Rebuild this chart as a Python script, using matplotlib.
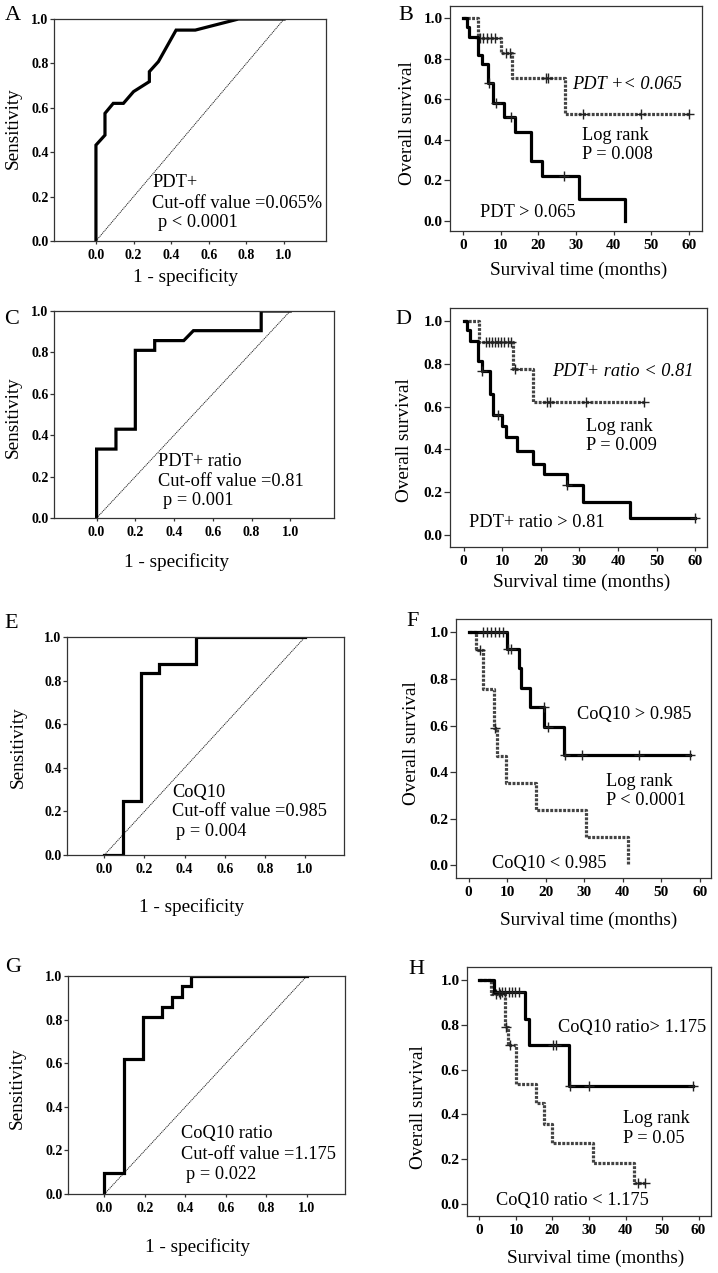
import numpy as np
import matplotlib
matplotlib.use("Agg")
import matplotlib.pyplot as plt

plt.rcParams['font.family'] = ['Liberation Serif', 'DejaVu Serif']

# ---------------- ROC data ----------------
A_fpr = [0, 0, 0.048, 0.048, 0.092, 0.146, 0.20, 0.284, 0.284, 0.332, 0.426, 0.528, 0.758, 1.0]
A_tpr = [0, 0.432, 0.477, 0.575, 0.62, 0.62, 0.673, 0.718, 0.763, 0.808, 0.95, 0.95, 1.0, 1.0]

C_fpr = [0, 0, 0.1, 0.1, 0.2, 0.2, 0.3, 0.3, 0.45, 0.5, 0.85, 0.85, 1.0]
C_tpr = [0, 0.333, 0.333, 0.429, 0.429, 0.81, 0.81, 0.857, 0.857, 0.905, 0.905, 1.0, 1.0]

E_fpr = [0, 0.091, 0.091, 0.182, 0.182, 0.273, 0.273, 0.455, 0.455, 1.0]
E_tpr = [0, 0, 0.25, 0.25, 0.833, 0.833, 0.875, 0.875, 1.0, 1.0]

G_fpr = [0, 0, 0.095, 0.095, 0.19, 0.19, 0.286, 0.286, 0.333, 0.333, 0.381, 0.381, 0.429, 0.429, 1.0]
G_tpr = [0, 0.095, 0.095, 0.619, 0.619, 0.81, 0.81, 0.857, 0.857, 0.905, 0.905, 0.952, 0.952, 1.0, 1.0]

roc_ticks = [0.0, 0.2, 0.4, 0.6, 0.8, 1.0]
roc_ticklabels = ["0.0", "0.2", "0.4", "0.6", "0.8", "1.0"]

# ---------------- Kaplan-Meier data ----------------
# B: PDT
B_hi_t = [1.1, 1.7, 3.9, 5.0, 6.7, 7.9, 10.8, 13.9, 18.0, 21.0, 30.9, 43.1]
B_hi_s = [0.955, 0.909, 0.818, 0.773, 0.682, 0.58, 0.511, 0.44, 0.293, 0.219, 0.109, 0.0]
B_hi_c = [6.9, 8.8, 12.7, 26.9]
B_hi_end = 43.1
B_lo_t = [3.9, 10.1, 13.0, 27.1]
B_lo_s = [0.901, 0.83, 0.704, 0.528]
B_lo_c = [4.4, 5.4, 6.5, 7.5, 8.6, 11.4, 12.5, 22.0, 22.7, 32.0, 47.3, 60.0]
B_lo_end = 60.0

# D: PDT+ ratio
D_hi_t = [1.0, 1.7, 3.8, 4.7, 6.8, 7.7, 9.9, 10.9, 13.9, 18.0, 20.8, 26.8, 30.9, 43.0]
D_hi_s = [0.956, 0.907, 0.812, 0.767, 0.661, 0.563, 0.51, 0.456, 0.393, 0.334, 0.285, 0.233, 0.156, 0.078]
D_hi_c = [4.9, 8.8, 26.9, 60.0]
D_hi_end = 60.0
D_lo_t = [4.0, 12.9, 17.9]
D_lo_s = [0.90, 0.775, 0.622]
D_lo_c = [5.8, 6.6, 7.4, 8.2, 9.0, 9.8, 10.6, 11.4, 12.2, 13.2, 21.7, 22.5, 31.8, 46.8]
D_lo_end = 46.8

# F: CoQ10
F_hi_t = [10.0, 13.0, 13.7, 16.0, 19.7, 24.8]
F_hi_s = [0.928, 0.847, 0.761, 0.678, 0.594, 0.475]
F_hi_c = [3.8, 4.9, 5.9, 6.9, 7.9, 8.9, 10.3, 11.1, 19.5, 20.6, 24.9, 29.5, 44.3, 57.4]
F_hi_end = 57.4
F_lo_t = [1.9, 3.8, 6.6, 7.5, 9.6, 17.6, 30.6, 41.3]
F_lo_s = [0.926, 0.757, 0.589, 0.47, 0.353, 0.239, 0.12, 0.0]
F_lo_c = [2.9, 6.8]
F_lo_end = 41.3

# H: CoQ10 ratio
H_hi_t = [4.1, 12.6, 13.7, 24.6]
H_hi_s = [0.946, 0.826, 0.711, 0.528]
H_hi_c = [5.3, 6.2, 7.1, 8.0, 8.9, 9.8, 10.7, 20.2, 20.9, 24.8, 30.0, 58.4]
H_hi_end = 58.4
H_lo_t = [3.3, 7.1, 7.9, 9.9, 15.6, 17.7, 19.8, 31.1, 42.2]
H_lo_s = [0.938, 0.79, 0.711, 0.536, 0.449, 0.355, 0.269, 0.18, 0.09]
H_lo_c = [4.5, 5.7, 7.3, 8.5, 43.3, 45.4]
H_lo_end = 45.4

km_xticks = [0, 10, 20, 30, 40, 50, 60]
km_xticklabels = ["0", "10", "20", "30", "40", "50", "60"]
km_yticks = [0.0, 0.2, 0.4, 0.6, 0.8, 1.0]
km_yticklabels = ["0.0", "0.2", "0.4", "0.6", "0.8", "1.0"]

# ---------------- figure ----------------
W, H = 718, 1273
fig = plt.figure(figsize=(W / 100, H / 100), dpi=100)
fig.patch.set_facecolor('white')

SPINE = '#333333'


def add_ax(l, r, t, b):
    return fig.add_axes([l / W, 1 - b / H, (r - l) / W, (b - t) / H])


def fig_text(x, y, s, **kw):
    fig.text(x / W, 1 - y / H, s, **kw)


def style_box(ax):
    for sp in ax.spines.values():
        sp.set_color(SPINE)
        sp.set_linewidth(0.9)


def roc_panel(box, xlim, fpr, tpr, lines, ylab_pos, xlab_pos):
    ax = add_ax(*box)
    style_box(ax)
    ax.plot([0, 1], [0, 1], color='#222222', lw=0.7, ls=(0, (1.2, 0.8)))
    ax.plot(fpr, tpr, color='black', lw=2.3, solid_joinstyle='miter')
    ax.set_xlim(*xlim)
    ax.set_ylim(0, 1)
    ax.set_xticks(roc_ticks)
    ax.set_xticklabels(roc_ticklabels, fontweight='bold', fontsize=10)
    ax.set_yticks(roc_ticks)
    ax.set_yticklabels(roc_ticklabels, fontweight='bold', fontsize=10)
    ax.tick_params(axis='x', length=2, width=0.9, pad=4, color=SPINE)
    ax.tick_params(axis='y', length=3, width=0.9, pad=1, color=SPINE)
    for (x, y, s) in lines:
        ax.text(x, y, s, fontsize=13.2, ha='left', va='center')
    fig_text(*ylab_pos, "Sensitivity", fontsize=13.8, rotation=90, ha='center', va='center')
    fig_text(*xlab_pos, "1 - specificity", fontsize=13.8, ha='center', va='center')
    return ax


def step_xy(t, s, end):
    x = [0.0] + list(t) + [end]
    y = [1.0] + list(s) + [s[-1]]
    return x, y


def surv_at(t, s, c):
    t = np.asarray(t)
    s = np.asarray(s)
    out = []
    for ct in c:
        idx = np.searchsorted(t, ct, side='right') - 1
        out.append(1.0 if idx < 0 else s[idx])
    return out


def km_curve(ax, t, s, c, end, dotted):
    x, y = step_xy(t, s, end)
    if dotted:
        ax.step(x, y, where='post', color='#444444', lw=2.3, ls=(0, (0.9, 0.45)))
    else:
        ax.step(x, y, where='post', color='black', lw=2.3)
    ax.plot(c, surv_at(t, s, c), ls='none', marker='+', ms=7, mew=1.0, color='#222222')


def km_panel(box, xlim, ylim, curves, texts, ylab_pos, xlab_pos):
    ax = add_ax(*box)
    style_box(ax)
    for (t, s, c, end, dotted) in curves:
        km_curve(ax, t, s, c, end, dotted)
    ax.set_xlim(*xlim)
    ax.set_ylim(*ylim)
    ax.set_xticks(km_xticks)
    ax.set_xticklabels(km_xticklabels, fontweight='bold', fontsize=11)
    ax.set_yticks(km_yticks)
    ax.set_yticklabels(km_yticklabels, fontweight='bold', fontsize=11)
    ax.tick_params(axis='x', length=3, width=0.9, pad=3, color=SPINE)
    ax.tick_params(axis='y', length=4, width=0.9, pad=1.5, color=SPINE)
    for (x, y, s, it) in texts:
        ax.text(x, y, s, fontsize=13.2, ha='left', va='center',
                style='italic' if it else 'normal')
    fig_text(*ylab_pos, "Overall survival", fontsize=13.8, rotation=90, ha='center', va='center')
    fig_text(*xlab_pos, "Survival time (months)", fontsize=13.8, ha='center', va='center')
    return ax


# Panel A
roc_panel((54, 326, 19, 241), (-0.223, 1.223), A_fpr, A_tpr,
          [(0.30, 0.263, "PDT+"), (0.30, 0.17, "Cut-off value =0.065%"), (0.33, 0.084, "p < 0.0001")],
          (13, 128), (186, 277))
# Panel C
roc_panel((54, 334, 311, 518), (-0.22, 1.226), C_fpr, C_tpr,
          [(0.317, 0.273, "PDT+ ratio"), (0.317, 0.177, "Cut-off value =0.81"), (0.343, 0.084, "p = 0.001")],
          (13, 417), (177, 562))
# Panel E
roc_panel((67, 344, 637, 855), (-0.186, 1.194), E_fpr, E_tpr,
          [(0.337, 0.286, "CoQ10"), (0.337, 0.199, "Cut-off value =0.985"), (0.358, 0.107, "p = 0.004")],
          (18, 747), (192, 907))
# Panel G
roc_panel((68, 345, 976, 1194), (-0.18, 1.188), G_fpr, G_tpr,
          [(0.378, 0.276, "CoQ10 ratio"), (0.378, 0.18, "Cut-off value =1.175"), (0.401, 0.089, "p = 0.022")],
          (17, 1088), (198, 1247))

# Panel B
km_panel((450, 702, 6, 231), (-3.45, 63.5), (-0.05, 1.06),
         [(B_lo_t, B_lo_s, B_lo_c, B_lo_end, True), (B_hi_t, B_hi_s, B_hi_c, B_hi_end, False)],
         [(29.1, 0.671, "PDT +< 0.065", True), (31.5, 0.419, "Log rank", False),
          (31.5, 0.326, "P = 0.008", False), (4.5, 0.043, "PDT > 0.065", False)],
         (408, 123), (579, 270))
# Panel D
km_panel((450, 707, 308, 547), (-3.5, 63.0), (-0.055, 1.06),
         [(D_lo_t, D_lo_s, D_lo_c, D_lo_end, True), (D_hi_t, D_hi_s, D_hi_c, D_hi_end, False)],
         [(22.8, 0.762, "PDT+ ratio < 0.81", True), (31.8, 0.505, "Log rank", False),
          (31.8, 0.417, "P = 0.009", False), (1.5, 0.058, "PDT+ ratio > 0.81", False)],
         (404, 440), (582, 582))
# Panel F
km_panel((456, 711, 619, 878), (-3.25, 62.9), (-0.054, 1.057),
         [(F_lo_t, F_lo_s, F_lo_c, F_lo_end, True), (F_hi_t, F_hi_s, F_hi_c, F_hi_end, False)],
         [(28.2, 0.647, "CoQ10 > 0.985", False), (35.7, 0.36, "Log rank", False),
          (35.7, 0.279, "P < 0.0001", False), (6.0, 0.01, "CoQ10 < 0.985", False)],
         (412, 743), (589, 920))
# Panel H
km_panel((467, 711, 967, 1216), (-3.4, 63.4), (-0.056, 1.06),
         [(H_lo_t, H_lo_s, H_lo_c, H_lo_end, True), (H_hi_t, H_hi_s, H_hi_c, H_hi_end, False)],
         [(21.5, 0.789, "CoQ10 ratio> 1.175", False), (39.2, 0.382, "Log rank", False),
          (39.2, 0.292, "P = 0.05", False), (4.6, 0.012, "CoQ10 ratio < 1.175", False)],
         (419, 1107), (596, 1258))

# Panel letters
for (x, y, s) in [(13, 15, "A"), (406, 15, "B"), (12, 319, "C"), (403, 320, "D"),
                  (11, 623, "E"), (413, 622, "F"), (13, 968, "G"), (416, 970, "H")]:
    fig_text(x, y, s, fontsize=16, ha='center', va='center')

fig.savefig("out.png", dpi=100, facecolor='white')
